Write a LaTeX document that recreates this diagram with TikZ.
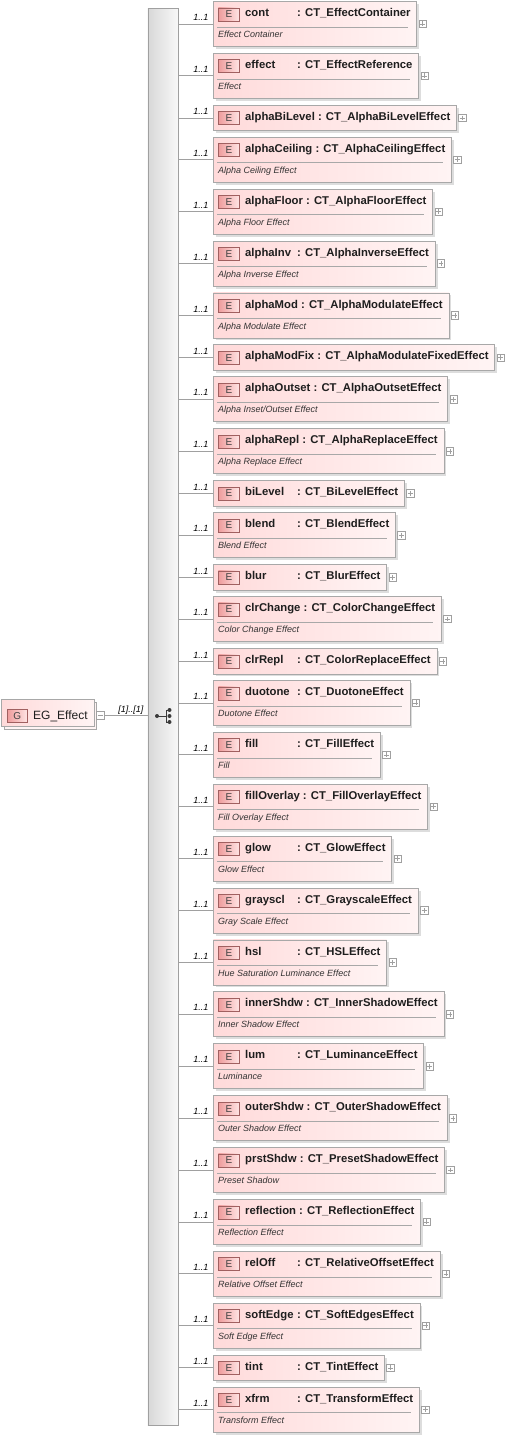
\documentclass[tikz,border=0pt]{standalone}
\usepackage{fontspec}
\setmainfont{Liberation Sans}
\usetikzlibrary{shadows}
\definecolor{bordc}{HTML}{A8A8A8}
\definecolor{boxl}{HTML}{FFDADA}
\definecolor{boxr}{HTML}{FFF4F4}
\definecolor{badgel}{HTML}{EE9C9C}
\definecolor{badger}{HTML}{FFE4E4}
\definecolor{badgeb}{HTML}{A06060}
\definecolor{shadc}{HTML}{DDDDDD}
\definecolor{txtc}{HTML}{1E1E1E}
\definecolor{doctc}{HTML}{333333}
\definecolor{linec}{HTML}{A0A0A0}
\definecolor{barl}{HTML}{D8D8D8}
\definecolor{barr}{HTML}{F8F8F8}
\definecolor{iconc}{HTML}{3A3A3A}
\newlength\HdrW
\newcommand\hdrfont{\fontsize{11.3}{13}\selectfont\bfseries}
\newcommand\NmCol[1]{\setbox0\hbox{#1\ }\ifdim\wd0<52pt\hbox to 52pt{#1\hfil}\else\box0\fi}
\newcommand\MeasureHdr[2]{%
 \pgfinterruptpicture
 \settowidth\HdrW{\normalfont\hdrfont\NmCol{#1}: #2}%
 \global\HdrW=\HdrW
 \endpgfinterruptpicture}
\tikzset{
 ebox/.style={draw=bordc, line width=0.8pt, left color=boxl, right color=boxr, inner sep=0pt,
   drop shadow={shadow xshift=2.5pt, shadow yshift=-2.5pt, fill=shadc, opacity=1}},
 badge/.style={draw=badgeb, line width=0.7pt, left color=badgel, right color=badger,
   minimum width=21pt, minimum height=13pt, inner sep=0pt, font=\fontsize{10}{11}\selectfont, text=black!75},
 hdr/.style={inner sep=0pt, anchor=base west, font=\hdrfont, text=txtc},
 doc/.style={inner sep=0pt, anchor=base west, font=\fontsize{9}{10}\selectfont\itshape, text=doctc},
 card/.style={inner sep=0pt, anchor=base east, font=\fontsize{9}{10}\selectfont\itshape, text=black},
 conn/.style={draw=linec, line width=0.8pt},
 sepl/.style={draw=bordc, line width=0.8pt},
 plusbox/.style={draw=linec, fill=white, line width=0.6pt, minimum width=7.5pt, minimum height=7.5pt, inner sep=0pt},
 plusc/.style={draw=linec, line width=0.6pt},
 seqbar/.style={draw=linec, line width=0.8pt, left color=barl, right color=barr, inner sep=0pt},
 gfr/.style={draw=bordc, line width=0.8pt, left color=boxl, right color=boxr, inner sep=0pt},
 gbk/.style={draw=bordc, line width=0.8pt, fill=boxr, inner sep=0pt},
 gtxt/.style={inner sep=0pt, anchor=base west, font=\fontsize{12}{13}\selectfont, text=txtc},
 icon/.style={fill=iconc},
 iconl/.style={draw=iconc, line width=1pt},
}
% #1 id, #2 top, #3 name, #4 type, #5 doc
\newcommand\ElD[5]{%
 \MeasureHdr{#3}{#4}%
 \pgfmathsetmacro\Rx{245+\HdrW+6}%
 \pgfmathsetmacro\Bw{\Rx-213}%
 \node[ebox, anchor=north west, minimum width=\Bw pt, minimum height=45pt] (#1) at (213,#2) {};
 \node[badge, anchor=north west] (#1b) at (218,#2+6.5) {E};
 \node[hdr] (#1h) at (245,#2+15.5) {\NmCol{#3}: #4};
 \draw[sepl] (217,#2+26) -- (\Rx-8,#2+26);
 \node[doc] (#1d) at (218,#2+36.5) {#5};
 \node[plusbox, anchor=west, xshift=1.5pt] (#1p) at (#1.east) {};
 \draw[plusc] ([xshift=1.6pt]#1p.west) -- ([xshift=-1.6pt]#1p.east) ([yshift=-1.6pt]#1p.north) -- ([yshift=1.6pt]#1p.south);
 \draw[conn] (seq.east |- #1.west) -- (#1.west);
 \node[card] (#1k) at (208.5,#2+19.5) {1..1};
}
\newcommand\ElS[4]{%
 \MeasureHdr{#3}{#4}%
 \pgfmathsetmacro\Rx{245+\HdrW+6}%
 \pgfmathsetmacro\Bw{\Rx-213}%
 \node[ebox, anchor=north west, minimum width=\Bw pt, minimum height=25.5pt] (#1) at (213,#2) {};
 \node[badge, anchor=north west] (#1b) at (218,#2+6.5) {E};
 \node[hdr] (#1h) at (245,#2+15.5) {\NmCol{#3}: #4};
 \node[plusbox, anchor=west, xshift=1.5pt] (#1p) at (#1.east) {};
 \draw[plusc] ([xshift=1.6pt]#1p.west) -- ([xshift=-1.6pt]#1p.east) ([yshift=-1.6pt]#1p.north) -- ([yshift=1.6pt]#1p.south);
 \draw[conn] (seq.east |- #1.west) -- (#1.west);
 \node[card] (#1k) at (208.5,#2+10) {1..1};
}
\begin{document}
\begin{tikzpicture}[x=1pt,y=-1pt]
\useasboundingbox (0,0) rectangle (506,1438);
\fill[white] (0,0) rectangle (506,1438);
% sequence bar
\node[seqbar, anchor=north west, minimum width=30pt, minimum height=1417pt] (seq) at (147.5,8) {};
% sequence icon
\draw[iconl] (157,716) -- (166,716) (166,710) -- (166,722) (166,710) -- (169.5,710) (166,722) -- (169.5,722);
\fill[icon] (157,716) circle (2pt);
\fill[icon] (169.5,710) circle (2pt) (169.5,716) circle (2pt) (169.5,722) circle (2pt);
% group
\node[gbk, anchor=north west, minimum width=92.5pt, minimum height=27pt] (gb) at (3.5,701.5) {};
\node[gfr, anchor=north west, minimum width=92.5pt, minimum height=27pt] (grp) at (1,699) {};
\node[badge, anchor=north west, minimum width=20pt] (gbadge) at (7,709) {G};
\node[gtxt] (gt) at (33,719.5) {EG\_Effect};
\node[plusbox, anchor=west] (gm) at (96,715.5) {};
\draw[plusc] ([xshift=1.6pt]gm.west) -- ([xshift=-1.6pt]gm.east);
\draw[conn] (gm.east) -- (seq.west |- gm.east);
\node[card] (gk) at (143.5,712) {[1]..[1]};
% elements
\ElD{econt}{1}{cont}{CT\_EffectContainer}{Effect Container}
\ElD{eeffect}{52.9}{effect}{CT\_EffectReference}{Effect}
\ElS{ealphaBiLevel}{104.8}{alphaBiLevel}{CT\_AlphaBiLevelEffect}
\ElD{ealphaCeiling}{136.8}{alphaCeiling}{CT\_AlphaCeilingEffect}{Alpha Ceiling Effect}
\ElD{ealphaFloor}{188.7}{alphaFloor}{CT\_AlphaFloorEffect}{Alpha Floor Effect}
\ElD{ealphaInv}{240.6}{alphaInv}{CT\_AlphaInverseEffect}{Alpha Inverse Effect}
\ElD{ealphaMod}{292.5}{alphaMod}{CT\_AlphaModulateEffect}{Alpha Modulate Effect}
\ElS{ealphaModFix}{344.4}{alphaModFix}{CT\_AlphaModulateFixedEffect}
\ElD{ealphaOutset}{376.4}{alphaOutset}{CT\_AlphaOutsetEffect}{Alpha Inset/Outset Effect}
\ElD{ealphaRepl}{428.3}{alphaRepl}{CT\_AlphaReplaceEffect}{Alpha Replace Effect}
\ElS{ebiLevel}{480.2}{biLevel}{CT\_BiLevelEffect}
\ElD{eblend}{512.2}{blend}{CT\_BlendEffect}{Blend Effect}
\ElS{eblur}{564.1}{blur}{CT\_BlurEffect}
\ElD{eclrChange}{596.1}{clrChange}{CT\_ColorChangeEffect}{Color Change Effect}
\ElS{eclrRepl}{648.0}{clrRepl}{CT\_ColorReplaceEffect}
\ElD{eduotone}{680.0}{duotone}{CT\_DuotoneEffect}{Duotone Effect}
\ElD{efill}{731.9}{fill}{CT\_FillEffect}{Fill}
\ElD{efillOverlay}{783.8}{fillOverlay}{CT\_FillOverlayEffect}{Fill Overlay Effect}
\ElD{eglow}{835.7}{glow}{CT\_GlowEffect}{Glow Effect}
\ElD{egrayscl}{887.6}{grayscl}{CT\_GrayscaleEffect}{Gray Scale Effect}
\ElD{ehsl}{939.5}{hsl}{CT\_HSLEffect}{Hue Saturation Luminance Effect}
\ElD{einnerShdw}{991.4}{innerShdw}{CT\_InnerShadowEffect}{Inner Shadow Effect}
\ElD{elum}{1043.3}{lum}{CT\_LuminanceEffect}{Luminance}
\ElD{eouterShdw}{1095.2}{outerShdw}{CT\_OuterShadowEffect}{Outer Shadow Effect}
\ElD{eprstShdw}{1147.1}{prstShdw}{CT\_PresetShadowEffect}{Preset Shadow}
\ElD{ereflection}{1199.0}{reflection}{CT\_ReflectionEffect}{Reflection Effect}
\ElD{erelOff}{1250.9}{relOff}{CT\_RelativeOffsetEffect}{Relative Offset Effect}
\ElD{esoftEdge}{1302.8}{softEdge}{CT\_SoftEdgesEffect}{Soft Edge Effect}
\ElS{etint}{1354.7}{tint}{CT\_TintEffect}
\ElD{exfrm}{1386.7}{xfrm}{CT\_TransformEffect}{Transform Effect}
\end{tikzpicture}
\end{document}
